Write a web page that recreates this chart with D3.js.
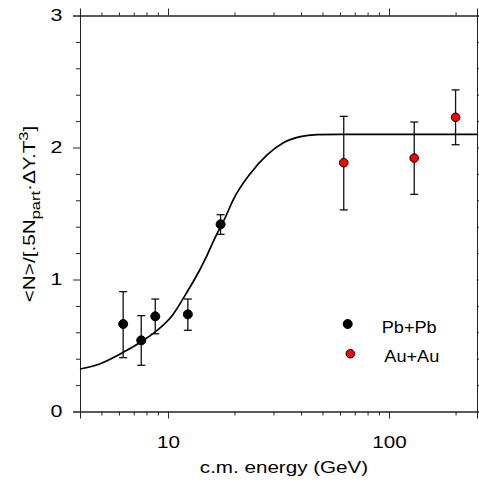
<!DOCTYPE html>
<html>
<head>
<meta charset="utf-8">
<script src="https://cdn.jsdelivr.net/npm/d3@7"></script>
<style>
  body { margin: 0; background: #fff; }
  svg text { font-family: "Liberation Sans", Arial, sans-serif; fill: #000; }
</style>
</head>
<body>
<svg id="chart"></svg>
<script>
// Pb+Pb (SPS) points
const pbEnergy = [6.27, 7.57, 8.76, 12.3, 17.3];
const pbValue  = [0.663, 0.539, 0.721, 0.736, 1.418];
const pbLow    = [0.408, 0.350, 0.589, 0.615, 1.342];
const pbHigh   = [0.908, 0.726, 0.852, 0.852, 1.491];

// Au+Au (RHIC) points
const auEnergy = [62.4, 130, 200];
const auValue  = [1.885, 1.920, 2.229];
const auLow    = [1.527, 1.645, 2.021];
const auHigh   = [2.236, 2.193, 2.436];

// fit curve
const fitEnergy = [4.0, 4.9, 6.27, 7.57, 8.79, 10.5, 12.1, 13.9, 14.8, 16.3, 18.1, 19.7, 23.5, 28.0, 33.3, 39.7, 47.3, 60, 250];
const fitValue  = [0.322, 0.36, 0.448, 0.529, 0.605, 0.731, 0.895, 1.07, 1.16, 1.314, 1.464, 1.602, 1.80, 1.943, 2.036, 2.082, 2.097, 2.10, 2.10];

const xMajor = [10, 100];
const xMinor = [4, 5, 6, 7, 8, 9, 20, 30, 40, 50, 60, 70, 80, 90, 200];
const yMajor = [0, 1, 2, 3];
const yMinor = [0.2, 0.4, 0.6, 0.8, 1.2, 1.4, 1.6, 1.8, 2.2, 2.4, 2.6, 2.8];

var margin = { top: 15.5, right: 2, bottom: 71.5, left: 80 },
    width = 479 - margin.left - margin.right,
    height = 483 - margin.top - margin.bottom;

var svg = d3.select("#chart")
    .attr("width", 479)
    .attr("height", 483)
    .append("g")
    .attr("transform", "translate(" + margin.left + "," + margin.top + ")");

var x = d3.scaleLog().domain([4, 250]).range([0, width]);
var y = d3.scaleLinear().domain([0, 3]).range([height, 0]);

// axes: major ticks with labels, minor ticks without
function axisStyle(g) {
    g.select(".domain").attr("stroke", "#222");
    g.selectAll(".tick line").attr("stroke", "#222");
    g.selectAll(".tick text").style("font-size", "16.5px");
}

var xAxis = svg.append("g")
    .attr("transform", "translate(0," + height + ")")
    .call(d3.axisBottom(x).tickValues(xMajor).tickFormat(d3.format("d")).tickSize(7).tickPadding(18))
    .call(axisStyle);
xAxis.selectAll(".tick text").attr("transform", "scale(1.25,1)");
svg.append("g")
    .attr("transform", "translate(0," + height + ")")
    .call(d3.axisBottom(x).tickValues(xMinor).tickFormat("").tickSize(4).tickSizeOuter(0))
    .call(axisStyle);

svg.append("g")
    .call(d3.axisTop(x).tickValues(xMajor).tickFormat("").tickSize(7))
    .call(axisStyle);
svg.append("g")
    .call(d3.axisTop(x).tickValues(xMinor).tickFormat("").tickSize(3).tickSizeOuter(0))
    .call(axisStyle);

var yAxis = svg.append("g")
    .call(d3.axisLeft(y).tickValues(yMajor).tickFormat(d3.format("d")).tickSize(7).tickPadding(10))
    .call(axisStyle);
yAxis.selectAll(".tick text").attr("x", 0).attr("transform", "translate(-17.5,0) scale(1.3,1)");
svg.append("g")
    .call(d3.axisLeft(y).tickValues(yMinor).tickFormat("").tickSize(4).tickSizeOuter(0))
    .call(axisStyle);

svg.append("g")
    .attr("transform", "translate(" + width + ",0)")
    .call(d3.axisRight(y).tickValues(yMajor).tickFormat("").tickSize(7))
    .call(axisStyle);
svg.append("g")
    .attr("transform", "translate(" + width + ",0)")
    .call(d3.axisRight(y).tickValues(yMinor).tickFormat("").tickSize(4).tickSizeOuter(0))
    .call(axisStyle);

// axis titles
svg.append("text")
    .attr("transform", "translate(204,457.5) scale(1.25,1)")
    .attr("text-anchor", "middle")
    .style("font-size", "16.5px")
    .text("c.m. energy (GeV)");

var yt = svg.append("text")
    .attr("transform", "translate(-45,198.5) rotate(-90) scale(1.22,1)")
    .attr("text-anchor", "middle")
    .style("font-size", "17px");
yt.append("tspan").text("<N>/[.5N");
yt.append("tspan").attr("dy", 4.5).style("font-size", "13.5px").text("part");
yt.append("tspan").attr("dy", -4.5).text("\u00b7\u0394Y.T");
yt.append("tspan").attr("dy", -7).style("font-size", "13.5px").text("3");
yt.append("tspan").attr("dy", 7).text("]");

// fit curve
var fit = fitEnergy.map(function(e, i) { return [e, fitValue[i]]; });
svg.append("path")
    .datum(fit)
    .attr("fill", "none")
    .attr("stroke", "#000")
    .attr("stroke-width", 1.7)
    .attr("d", d3.line()
        .x(function(d) { return x(d[0]); })
        .y(function(d) { return y(d[1]); })
        .curve(d3.curveMonotoneX));

// error bars and points
function drawSeries(E, V, lo, hi, fill, r) {
    var g = svg.append("g");
    E.forEach(function(e, i) {
        var cx = x(e);
        g.append("line").attr("x1", cx).attr("x2", cx).attr("y1", y(lo[i])).attr("y2", y(hi[i]))
            .attr("stroke", "#111").attr("stroke-width", 1.3);
        [lo[i], hi[i]].forEach(function(v) {
            g.append("line").attr("x1", cx - 4).attr("x2", cx + 4).attr("y1", y(v)).attr("y2", y(v))
                .attr("stroke", "#111").attr("stroke-width", 1.3);
        });
    });
    g.selectAll("circle")
        .data(E)
        .enter().append("circle")
        .attr("cx", function(d) { return x(d); })
        .attr("cy", function(d, i) { return y(V[i]); })
        .attr("r", r)
        .attr("fill", fill)
        .attr("stroke", "#000")
        .attr("stroke-width", 1);
}
drawSeries(pbEnergy, pbValue, pbLow, pbHigh, "#000", 4.5);
drawSeries(auEnergy, auValue, auLow, auHigh, "#ff0000", 4.3);

// legend
svg.append("circle").attr("cx", 267.7).attr("cy", 308.5).attr("r", 4.5).attr("fill", "#000").attr("stroke", "#000");
svg.append("text").attr("transform", "translate(301.7,317) scale(1.1,1)").style("font-size", "16.5px").text("Pb+Pb");
svg.append("circle").attr("cx", 270.3).attr("cy", 338.2).attr("r", 4.3).attr("fill", "#ff0000").attr("stroke", "#000");
svg.append("text").attr("transform", "translate(304.3,346.5) scale(1.1,1)").style("font-size", "16.5px").text("Au+Au");
</script>
</body>
</html>
